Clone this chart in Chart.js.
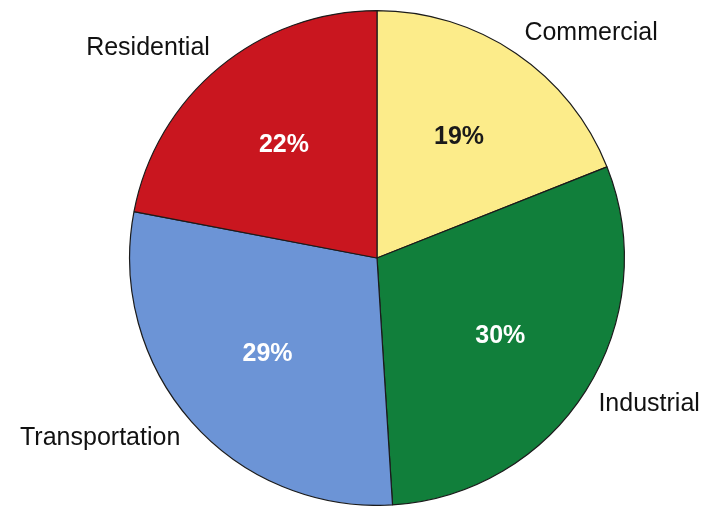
<!DOCTYPE html>
<html lang="en">
<head>
    <meta charset="UTF-8">
    <title>Energy Use by Sector</title>
    <script src="https://cdn.jsdelivr.net/npm/chart.js@4.4.0/dist/chart.umd.min.js"></script>
    <style>
        body {
            margin: 0;
            padding: 0;
            background: #ffffff;
        }
        .chart-container {
            width: 707px;
            height: 506px;
        }
    </style>
</head>
<body>
    <div class="chart-container">
        <canvas id="sectorChart"></canvas>
    </div>

    <script>
        const sectors = ['Commercial', 'Industrial', 'Transportation', 'Residential'];
        const shares = [19, 30, 29, 22];
        const sliceColors = ['#FCEC8A', '#117F3B', '#6C94D6', '#C9161F'];
        const percentColors = ['#1a1a1a', '#ffffff', '#ffffff', '#ffffff'];

        // draws the percent inside each slice and the sector name outside
        const sliceLabels = {
            id: 'sliceLabels',
            afterDatasetsDraw(chart) {
                const ctx = chart.ctx;
                const meta = chart.getDatasetMeta(0);
                ctx.save();
                meta.data.forEach((arc, i) => {
                    const p = arc.getProps(['x', 'y', 'startAngle', 'endAngle', 'outerRadius'], true);
                    const mid = (p.startAngle + p.endAngle) / 2;
                    const cos = Math.cos(mid);
                    const sin = Math.sin(mid);

                    const rIn = p.outerRadius * 0.59;
                    ctx.font = 'bold 25px "Liberation Sans", Arial, sans-serif';
                    ctx.fillStyle = percentColors[i];
                    ctx.textAlign = 'center';
                    ctx.textBaseline = 'middle';
                    ctx.fillText(shares[i] + '%', p.x + cos * rIn, p.y + sin * rIn);

                    // names sit a bit wider vertically than horizontally
                    ctx.font = '25px "Liberation Sans", Arial, sans-serif';
                    ctx.fillStyle = '#111111';
                    ctx.textAlign = cos >= 0 ? 'left' : 'right';
                    ctx.fillText(sectors[i],
                        p.x + cos * p.outerRadius * 1.06,
                        p.y + sin * p.outerRadius * 1.1);
                });
                ctx.restore();
            }
        };

        new Chart(document.getElementById('sectorChart'), {
            type: 'pie',
            data: {
                labels: sectors,
                datasets: [{
                    data: shares,
                    backgroundColor: sliceColors,
                    borderColor: '#1b1b1b',
                    borderWidth: 1.2
                }]
            },
            options: {
                responsive: true,
                maintainAspectRatio: false,
                animation: false,
                layout: {
                    padding: { top: 10, bottom: 0, left: 47, right: 0 }
                },
                plugins: {
                    legend: { display: false },
                    tooltip: { enabled: false }
                }
            },
            plugins: [sliceLabels]
        });
    </script>
</body>
</html>
